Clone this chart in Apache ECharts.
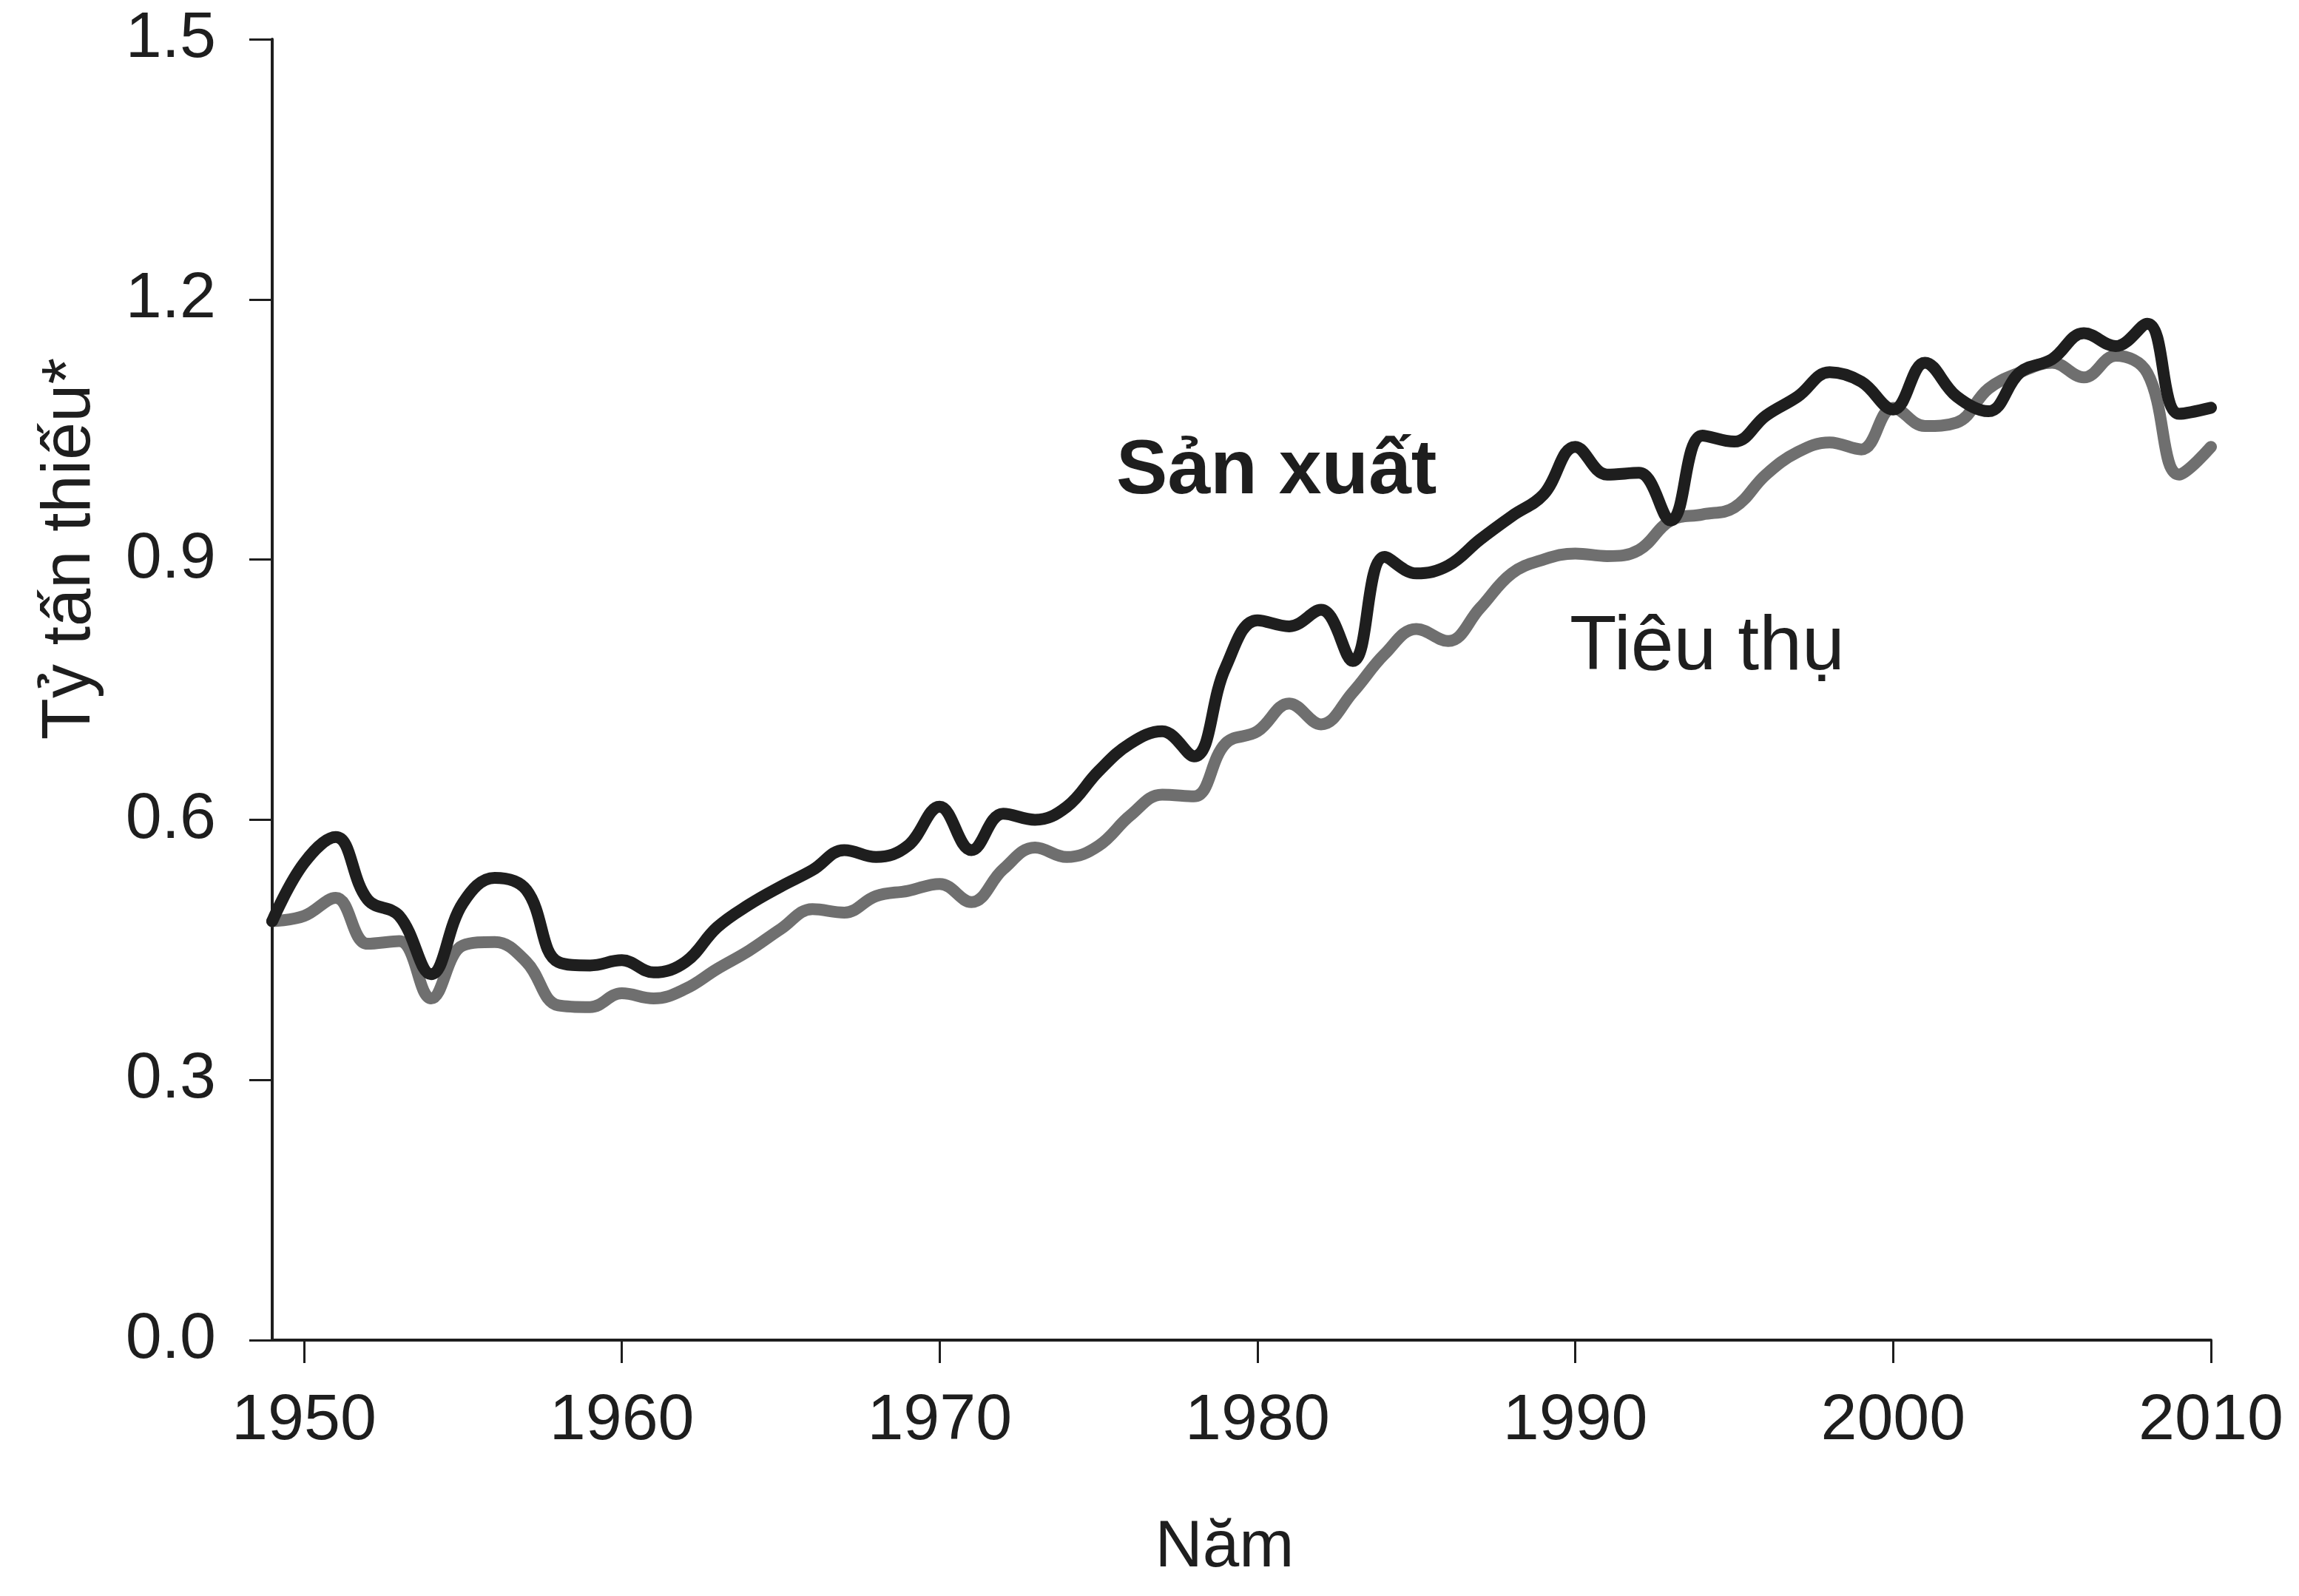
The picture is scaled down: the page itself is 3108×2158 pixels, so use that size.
<!DOCTYPE html>
<html>
<head>
<meta charset="utf-8">
<title>Sản xuất và tiêu thụ</title>
<script src="https://cdn.jsdelivr.net/npm/echarts@6/dist/echarts.min.js"></script>
<style>
  html, body { margin: 0; padding: 0; background: #ffffff; }
  #chart { width: 3108px; height: 2158px; }
</style>
</head>
<body>
<div id="chart"></div>
<script>
// ---- Data ----
const years = [1949,1950,1951,1952,1953,1954,1955,1956,1957,1958,1959,
  1960,1961,1962,1963,1964,1965,1966,1967,1968,1969,
  1970,1971,1972,1973,1974,1975,1976,1977,1978,1979,
  1980,1981,1982,1983,1984,1985,1986,1987,1988,1989,
  1990,1991,1992,1993,1994,1995,1996,1997,1998,1999,
  2000,2001,2002,2003,2004,2005,2006,2007,2008,2009,2010];

const production = [0.483,0.550,0.580,0.508,0.489,0.422,0.504,0.533,0.519,0.436,0.432,
  0.438,0.424,0.436,0.476,0.502,0.523,0.542,0.565,0.557,0.570,
  0.615,0.565,0.607,0.600,0.615,0.656,0.688,0.702,0.673,0.776,
  0.830,0.823,0.842,0.783,0.903,0.884,0.893,0.923,0.950,0.975,
  1.030,0.998,1.000,0.945,1.043,1.036,1.066,1.088,1.116,1.105,
  1.073,1.127,1.088,1.071,1.116,1.131,1.161,1.146,1.172,1.068,1.075];

const consumption = [0.483,0.489,0.510,0.457,0.460,0.394,0.455,0.459,0.436,0.386,0.384,
  0.400,0.394,0.405,0.428,0.449,0.474,0.497,0.493,0.512,0.518,
  0.526,0.505,0.543,0.568,0.557,0.570,0.605,0.629,0.627,0.688,
  0.702,0.734,0.710,0.747,0.791,0.820,0.806,0.844,0.884,0.900,
  0.907,0.904,0.911,0.945,0.952,0.960,0.998,1.024,1.035,1.027,
  1.075,1.054,1.058,1.097,1.116,1.127,1.110,1.135,1.115,0.998,1.030];

const xTickYears = [1950,1960,1970,1980,1990,2000,2010];

const labelProduction = 'Sản xuất';
const labelConsumption = 'Tiêu thụ';
const xTitle = 'Năm';
const yTitle = 'Tỷ tấn thiếu*';

// ---- Chart ----
const FONT = "'Liberation Sans', Arial, Helvetica, sans-serif";
const AXIS_COLOR = '#1e1e1e';

const chart = echarts.init(document.getElementById('chart'), null, { renderer: 'canvas' });

const option = {
  backgroundColor: '#ffffff',
  animation: false,
  grid: { left: 368, right: 119, top: 53, bottom: 346, containLabel: false },
  xAxis: {
    type: 'value',
    min: 1949,
    max: 2010,
    splitLine: { show: false },
    axisLine: { show: true, onZero: false, lineStyle: { color: AXIS_COLOR, width: 4 } },
    axisTick: { show: true, length: 31, lineStyle: { color: AXIS_COLOR, width: 3 }, customValues: xTickYears },
    axisLabel: {
      show: true, margin: 66, color: AXIS_COLOR, fontSize: 88, fontFamily: FONT,
      customValues: xTickYears,
      formatter: v => String(v)
    },
    name: xTitle,
    nameLocation: 'middle',
    nameGap: 237,
    nameTextStyle: { color: AXIS_COLOR, fontSize: 89, fontFamily: FONT, padding: [0, 46, 0, 0] }
  },
  yAxis: {
    type: 'value',
    min: 0,
    max: 1.5,
    interval: 0.3,
    splitLine: { show: false },
    axisLine: { show: true, lineStyle: { color: AXIS_COLOR, width: 4 } },
    axisTick: { show: true, length: 31, lineStyle: { color: AXIS_COLOR, width: 3 } },
    axisLabel: {
      show: true, margin: 76, color: AXIS_COLOR, fontSize: 88, fontFamily: FONT,
      formatter: v => v.toFixed(1)
    }
  },
  graphic: [
    {
      type: 'text',
      x: 96, y: 742,
      rotation: Math.PI / 2,
      style: {
        text: yTitle, fill: AXIS_COLOR, fontSize: 92, fontFamily: FONT,
        align: 'center', verticalAlign: 'middle'
      }
    },
    {
      type: 'text',
      x: 1509, y: 638,
      style: {
        text: labelProduction, fill: AXIS_COLOR, fontSize: 104, fontWeight: 'bold', fontFamily: FONT,
        align: 'left', verticalAlign: 'middle'
      }
    },
    {
      type: 'text',
      x: 2122, y: 876,
      style: {
        text: labelConsumption, fill: AXIS_COLOR, fontSize: 104, fontFamily: FONT,
        align: 'left', verticalAlign: 'middle'
      }
    }
  ],
  series: [
    {
      name: labelConsumption,
      type: 'line',
      data: years.map((y, i) => [y, consumption[i]]),
      showSymbol: false,
      smooth: 0.4,
      lineStyle: { color: '#6f6f6f', width: 16, cap: 'round', join: 'round' },
      z: 2
    },
    {
      name: labelProduction,
      type: 'line',
      data: years.map((y, i) => [y, production[i]]),
      showSymbol: false,
      smooth: 0.4,
      lineStyle: { color: '#1e1e1e', width: 16, cap: 'round', join: 'round' },
      z: 3
    }
  ]
};

chart.setOption(option);
</script>
</body>
</html>
